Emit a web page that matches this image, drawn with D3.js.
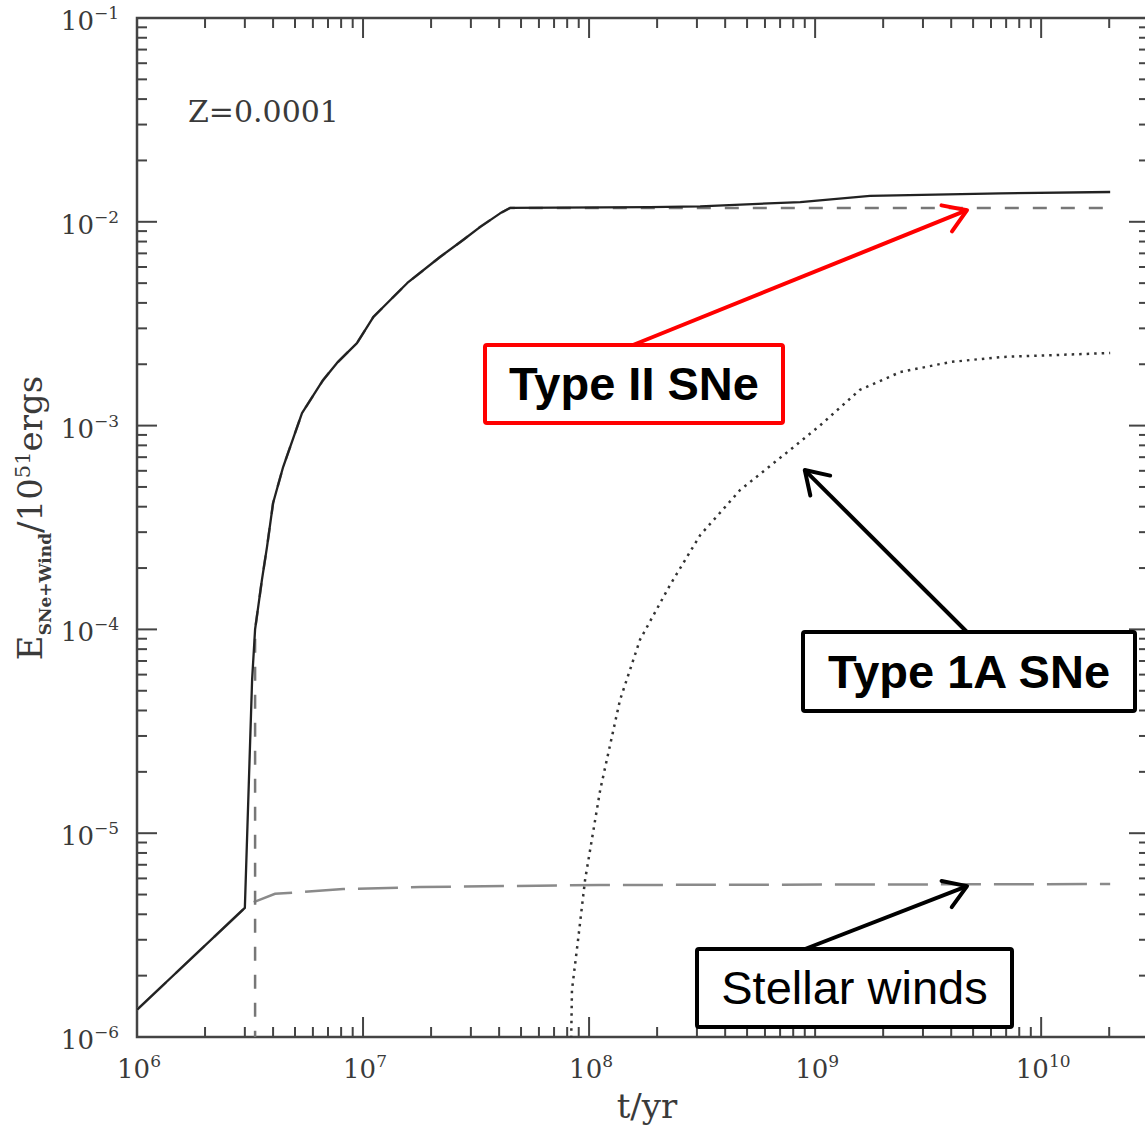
<!DOCTYPE html>
<html>
<head>
<meta charset="utf-8">
<script src="https://cdn.jsdelivr.net/npm/d3@7"></script>
<style>
  html, body { margin: 0; padding: 0; background: #fff; }
  svg { display: block; }
</style>
</head>
<body>
<svg id="chart" width="1145" height="1126"></svg>
<script>
// ---------------- data ----------------
const xDomain = [1e6, 3e10];
const yDomain = [1e-6, 1e-1];
const xTickExponents = [6, 7, 8, 9, 10];
const yTickExponents = [-1, -2, -3, -4, -5, -6];

// total (solid): [t/yr, E]
const totalT = [1e6, 3.0e6, 3.23e6, 3.33e6, 3.57e6, 3.76e6, 4.0e6, 4.43e6, 5.37e6, 6.65e6, 7.67e6, 9.4e6, 1.11e7, 1.57e7, 2.19e7, 2.77e7, 3.29e7, 4.04e7, 4.47e7, 1.86e8, 3.1e8, 8.6e8, 1.75e9, 6.6e9, 2.02e10];
const totalE = [1.36e-6, 4.3e-6, 5.65e-5, 1.0e-4, 1.75e-4, 2.54e-4, 4.17e-4, 6.26e-4, 1.15e-3, 1.67e-3, 2.03e-3, 2.54e-3, 3.41e-3, 5.01e-3, 6.72e-3, 8.14e-3, 9.42e-3, 1.10e-2, 1.17e-2, 1.18e-2, 1.19e-2, 1.25e-2, 1.34e-2, 1.38e-2, 1.40e-2];

// Type II SNe (dashed)
const typeIIT = [3.33e6, 3.33e6, 3.57e6, 3.76e6, 4.0e6, 4.43e6, 5.37e6, 6.65e6, 7.67e6, 9.4e6, 1.11e7, 1.57e7, 2.19e7, 2.77e7, 3.29e7, 4.04e7, 4.47e7, 2.02e10];
const typeIIE = [1e-7, 1.0e-4, 1.75e-4, 2.54e-4, 4.17e-4, 6.26e-4, 1.15e-3, 1.67e-3, 2.03e-3, 2.54e-3, 3.41e-3, 5.01e-3, 6.72e-3, 8.14e-3, 9.42e-3, 1.10e-2, 1.17e-2, 1.17e-2];

// Stellar winds (long dashed)
const windT = [1e6, 3.0e6, 3.2e6, 4.08e6, 5.26e6, 8.17e6, 1.79e7, 1.12e8, 2.02e10];
const windE = [1.36e-6, 4.3e-6, 4.54e-6, 5.04e-6, 5.14e-6, 5.32e-6, 5.44e-6, 5.57e-6, 5.63e-6];

// Type 1A SNe (dotted)
const typeIaT = [8.07e7, 8.4e7, 8.94e7, 9.6e7, 1.12e8, 1.37e8, 1.68e8, 2.28e8, 3.1e8, 4.66e8, 7.75e8, 1.05e9, 1.58e9, 2.38e9, 3.95e9, 6.6e9, 2.02e10];
const typeIaE = [1e-7, 1.7e-6, 3.0e-6, 5.9e-6, 1.63e-5, 4.5e-5, 8.9e-5, 1.65e-4, 2.9e-4, 4.83e-4, 7.6e-4, 1.0e-3, 1.5e-3, 1.83e-3, 2.05e-3, 2.17e-3, 2.27e-3];

// annotations: label, arrow tip in data units
const annLabels = ["Type II SNe", "Type 1A SNe", "Stellar winds"];
const annTipT = [4.7e9, 9.0e8, 4.7e9];
const annTipE = [1.14e-2, 6.05e-4, 5.5e-6];
const metallicityLabel = "Z=0.0001";

// ---------------- layout ----------------
const L = 137, T = 18, R = 1149, B = 1037;
const svg = d3.select("#chart");

const x = d3.scaleLog().domain(xDomain).range([L, R]);
const y = d3.scaleLog().domain(yDomain).range([B, T]);

const axisColor = "#444";
const textColor = "#3a3a3a";
const serif = "'DejaVu Serif', 'Liberation Serif', serif";
const sans = "'Liberation Sans', Arial, sans-serif";

svg.append("defs").append("clipPath").attr("id", "clip")
  .append("rect").attr("x", L).attr("y", T).attr("width", R - L).attr("height", B - T);

// ---------------- ticks (all four sides, inward) ----------------
function logTicks(scale, lo, hi) {
  const out = [];
  const d = scale.domain();
  for (let e = lo; e < hi; e++) {
    for (let k = 1; k <= 9; k++) {
      const v = k * Math.pow(10, e);
      if (v >= d[0] * 0.999 && v <= d[1] * 1.001) out.push({ v, major: k === 1 });
    }
  }
  return out;
}
const xt = logTicks(x, 6, 11);
const yt = logTicks(y, -6, 0);

const tickG = svg.append("g").attr("stroke", axisColor).attr("stroke-width", 2);
xt.forEach(t => {
  const len = t.major ? 20 : 10;
  const px = x(t.v);
  tickG.append("line").attr("x1", px).attr("x2", px).attr("y1", B).attr("y2", B - len);
  tickG.append("line").attr("x1", px).attr("x2", px).attr("y1", T).attr("y2", T + len);
});
yt.forEach(t => {
  const len = t.major ? 20 : 10;
  const py = y(t.v);
  tickG.append("line").attr("x1", L).attr("x2", L + len).attr("y1", py).attr("y2", py);
  tickG.append("line").attr("x1", R).attr("x2", R - len).attr("y1", py).attr("y2", py);
});

svg.append("rect").attr("x", L).attr("y", T).attr("width", R - L).attr("height", B - T)
  .attr("fill", "none").attr("stroke", axisColor).attr("stroke-width", 2.5);

// ---------------- tick labels ----------------
const xl = svg.append("g").attr("font-family", serif).attr("fill", textColor);
xTickExponents.forEach(e => {
  const t = xl.append("text").attr("x", x(Math.pow(10, e)) + 2).attr("y", 1078)
    .attr("text-anchor", "middle").attr("font-size", 26);
  t.append("tspan").text("10");
  t.append("tspan").attr("dy", -11).attr("font-size", 17).text(String(e));
});
const yl = svg.append("g").attr("font-family", serif).attr("fill", textColor);
yTickExponents.forEach(e => {
  const t = yl.append("text").attr("x", 119).attr("y", y(Math.pow(10, e)) + 12)
    .attr("text-anchor", "end").attr("font-size", 26);
  t.append("tspan").text("10");
  t.append("tspan").attr("dy", -11).attr("font-size", 17).text("\u2212" + Math.abs(e));
});

// axis titles
svg.append("text").attr("x", 647).attr("y", 1118).attr("text-anchor", "middle")
  .attr("font-family", serif).attr("font-size", 34).attr("fill", textColor).text("t/yr");

const yTitle = svg.append("text")
  .attr("transform", "translate(42,518) rotate(-90)")
  .attr("text-anchor", "middle").attr("font-family", serif).attr("font-size", 34).attr("fill", textColor);
yTitle.append("tspan").text("E");
yTitle.append("tspan").attr("dy", 9).attr("font-size", 17).attr("font-weight", "bold").text("SNe+Wind");
yTitle.append("tspan").attr("dy", -9).text("/10");
yTitle.append("tspan").attr("dy", -12).attr("font-size", 21).text("51");
yTitle.append("tspan").attr("dy", 12).text("ergs");

svg.append("text").attr("x", 188).attr("y", 122).attr("font-family", serif)
  .attr("font-size", 30).attr("fill", textColor).text(metallicityLabel);

// ---------------- curves ----------------
const line = d3.line().x(d => x(d[0])).y(d => y(d[1]));
const zip = (a, b) => a.map((v, i) => [v, b[i]]);
const plot = svg.append("g").attr("clip-path", "url(#clip)").attr("fill", "none");

plot.append("path").datum(zip(windT, windE)).attr("d", line)
  .attr("stroke", "#8a8a8a").attr("stroke-width", 2.5).attr("stroke-dasharray", "40,13");
plot.append("path").datum(zip(typeIIT, typeIIE)).attr("d", line)
  .attr("stroke", "#777").attr("stroke-width", 2.5).attr("stroke-dasharray", "14,14");
plot.append("path").datum(zip(typeIaT, typeIaE)).attr("d", line)
  .attr("stroke", "#333").attr("stroke-width", 2.5).attr("stroke-dasharray", "2.5,5");
plot.append("path").datum(zip(totalT, totalE)).attr("d", line)
  .attr("stroke", "#222").attr("stroke-width", 2.3).attr("stroke-linejoin", "round");

// ---------------- annotations ----------------
const boxes = [
  { x: 485, y: 345, w: 298, h: 78, color: "#ff0000", bold: true, tailX: 633, tailY: 345 },
  { x: 803, y: 632, w: 332, h: 79, color: "#000", bold: true, tailX: 967, tailY: 632 },
  { x: 697, y: 949, w: 315, h: 78, color: "#000", bold: false, tailX: 805, tailY: 949 }
];
const ann = svg.append("g");
boxes.forEach((b, i) => {
  const tx = x(annTipT[i]), ty = y(annTipE[i]);
  ann.append("line").attr("x1", b.tailX).attr("y1", b.tailY).attr("x2", tx).attr("y2", ty)
    .attr("stroke", b.color).attr("stroke-width", 4);
  const ang = Math.atan2(ty - b.tailY, tx - b.tailX);
  const hl = 26, ha = Math.PI / 5.5;
  const p1 = [tx - hl * Math.cos(ang - ha), ty - hl * Math.sin(ang - ha)];
  const p2 = [tx - hl * Math.cos(ang + ha), ty - hl * Math.sin(ang + ha)];
  ann.append("path").attr("d", `M${p1[0]},${p1[1]}L${tx},${ty}L${p2[0]},${p2[1]}`)
    .attr("fill", "none").attr("stroke", b.color).attr("stroke-width", 4)
    .attr("stroke-linecap", "round").attr("stroke-linejoin", "round");
  ann.append("rect").attr("x", b.x).attr("y", b.y).attr("width", b.w).attr("height", b.h)
    .attr("rx", 2).attr("fill", "#fff").attr("stroke", b.color).attr("stroke-width", 4);
  ann.append("text").attr("x", b.x + b.w / 2).attr("y", b.y + b.h / 2 + 16)
    .attr("text-anchor", "middle").attr("font-family", sans).attr("font-size", 47)
    .attr("font-weight", b.bold ? "bold" : "normal").attr("fill", "#000").text(annLabels[i]);
});
</script>
</body>
</html>
